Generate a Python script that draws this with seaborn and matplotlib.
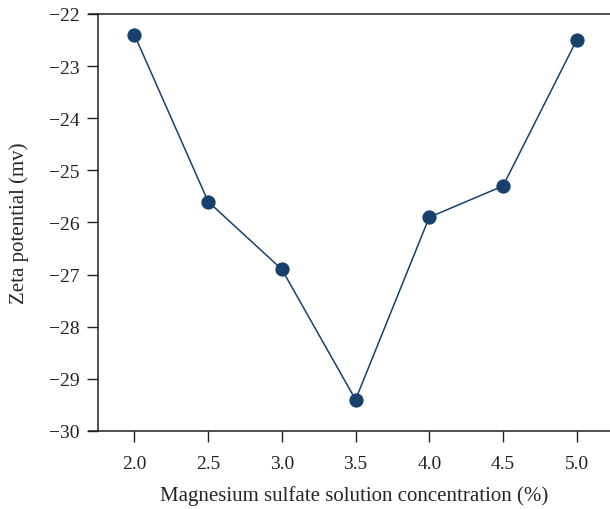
import matplotlib
matplotlib.use('Agg')
import matplotlib.pyplot as plt
import seaborn as sns
import pandas as pd

# 数据
concentration = [2.0, 2.5, 3.0, 3.5, 4.0, 4.5, 5.0]
zeta = [-22.4, -25.6, -26.9, -29.4, -25.9, -25.3, -22.5]
x_ticks = [2.0, 2.5, 3.0, 3.5, 4.0, 4.5, 5.0]
y_ticks = [-30, -29, -28, -27, -26, -25, -24, -23, -22]

sns.set_style('ticks')
plt.rcParams['font.family'] = ['Liberation Serif', 'DejaVu Serif']
plt.rcParams['axes.unicode_minus'] = True

df = pd.DataFrame({'conc': concentration, 'zeta': zeta})

fig = plt.figure(figsize=(6.1, 5.1), dpi=100)
ax = fig.add_axes([0.16, 0.153, 0.84, 0.8176])

color = '#17406d'
sns.lineplot(data=df, x='conc', y='zeta', ax=ax, color=color, linewidth=1.1,
             marker='o', markersize=9.5, markeredgecolor=color, markerfacecolor=color)

ax.set_xlim(1.75, 5.226)
ax.set_ylim(-30, -22)
ax.set_xticks(x_ticks)
ax.set_xticklabels([f'{v:.1f}' for v in x_ticks])
ax.set_yticks(y_ticks)
ax.set_yticklabels([f'\u2212{abs(v)}' for v in y_ticks])

# 边框
ax.spines['right'].set_visible(False)
for s in ['left', 'top', 'bottom']:
    ax.spines[s].set_linewidth(1.1)
    ax.spines[s].set_color('#222222')
ax.spines['top'].set_bounds(1.695, 5.226)
ax.spines['bottom'].set_bounds(1.695, 5.226)

ax.tick_params(axis='both', direction='out', length=8, width=1.0, labelsize=14,
               colors='#222222', pad=5)
ax.tick_params(axis='x', pad=9)

ax.set_xlabel('Magnesium sulfate solution concentration (%)', fontsize=15, labelpad=10)
ax.set_ylabel('Zeta potential (mv)', fontsize=15, labelpad=14)

fig.savefig('out.png', dpi=100)
